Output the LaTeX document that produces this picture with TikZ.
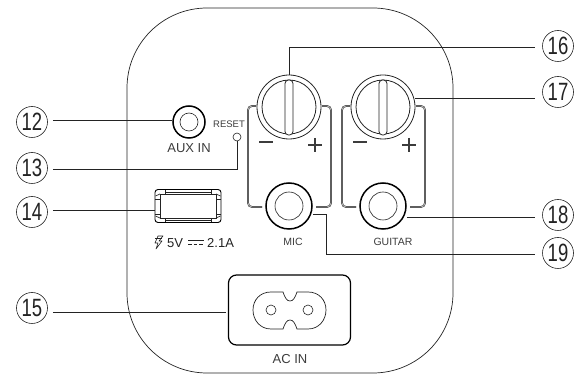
\documentclass[tikz,border=0pt]{standalone}
\usepackage{fontspec}
\setmainfont{Liberation Sans}
\newfontfamily\numfont[FakeStretch=0.74]{Liberation Sans}
\usetikzlibrary{calc}
\definecolor{panelink}{RGB}{35, 35, 35}
\definecolor{labelink}{RGB}{60, 60, 60}
\tikzset{
    callout/.style={circle, draw=panelink, line width=0.6pt, minimum size=31pt, inner sep=0pt, text=panelink,
        font=\numfont\fontsize{25}{25}\selectfont},
    leader/.style={draw=panelink, line width=0.7pt},
    jackring/.style={circle, draw=black, line width=1.5pt, inner sep=0pt},
    knobring/.style={circle, draw=panelink, line width=0.8pt, minimum size=64pt, inner sep=0pt},
    caption/.style={text=labelink, inner sep=0pt, font=\fontsize{10.5}{12}\selectfont},
    bracket/.style={draw=black!80, line width=0.45pt, double=gray!60, double distance=0.9pt, rounded corners=4pt},
}

\begin{document}
\begin{tikzpicture}[x=1pt, y=-1pt]
\useasboundingbox (0,0) rectangle (574,374);

% === Carcasa ===
\draw[panelink, line width=0.7pt, rounded corners=80pt] (127,8) rectangle (453,373);

% === Mandos MIC / GUITAR ===
\foreach \name/\cx in {mic/289, guitar/383} {
    \begin{scope}[shift={(\cx,0)}]
        % Soportes laterales
        \draw[bracket] (-33,106) -- (-41,106) -- (-41,207) -- (-27,207);
        \draw[bracket] (33,106) -- (42,106) -- (42,207) -- (27,207);

        % Mando
        \node[knobring, fill=white] (knob\name) at (0,107) {};
        \node[knobring, minimum size=54pt] at (0,107) {};
        \draw[panelink, line width=0.8pt, fill=white, rounded corners=3.5pt] (-4,135) rectangle (4,80);

        % Signos
        \draw[labelink, line width=1.1pt] (-30,142) -- (-16,142);
        \draw[labelink, line width=1.1pt] (19,145) -- (33,145) (26,138) -- (26,152);

        % Jack
        \node[jackring, minimum size=46pt, fill=white] (jack\name) at (0,206) {};
        \node[circle, draw=panelink, line width=0.6pt, minimum size=28pt, inner sep=0pt] at (0,206) {};
    \end{scope}
}
\node[caption] (miclabel) at (293,242) {MIC};
\node[caption] (guitarlabel) at (393,242) {GUITAR};

% === AUX IN / RESET ===
\node[jackring, minimum size=32pt] (auxjack) at (189,122) {};
\node[circle, draw=panelink, line width=0.6pt, minimum size=18pt, inner sep=0pt] at (189,122) {};
\node[caption, font=\fontsize{13}{15}\selectfont] (auxlabel) at (189,148) {AUX IN};
\node[caption, font=\fontsize{9.5}{11}\selectfont] (resetlabel) at (229,124) {RESET};
\node[circle, draw=panelink, line width=0.6pt, minimum size=8pt, inner sep=0pt] (resetled) at (237,137) {};

% === USB ===
\node[draw=black, line width=0.9pt, rounded corners=3pt, minimum width=66pt, minimum height=33pt, inner sep=0pt] (usb) at (188,206) {};
\draw[panelink, line width=0.7pt] (160,194) rectangle (216,218);
\draw[panelink, line width=0.7pt] (165,194) -- (165,190) (211,194) -- (211,190) (165,218) -- (165,222) (211,218) -- (211,222);
\draw[panelink, line width=0.7pt] (155.5,196) -- (160,194) (220.5,196) -- (216,194) (155.5,216) -- (160,218) (220.5,216) -- (216,218);
\draw[panelink, line width=0.7pt] (160,199) -- (155,199) (216,199) -- (221,199) (160,214) -- (155,214) (216,214) -- (221,214);
\draw[panelink, line width=0.7pt] (165,192) -- (211,192) (165,220) -- (211,220);
% Rayo
\draw[panelink, line width=0.6pt, line join=round] (158,236) -- (155,243) -- (158,243) -- (156,249) -- (162,241) -- (159,241) -- (163,236) -- cycle;
\draw[panelink, line width=0.4pt] (155,238.5) -- (162,238.5);
\node[caption, anchor=west, text=panelink, font=\fontsize{13}{15}\selectfont] (usbvolt) at (167,243) {5V};
\draw[panelink, line width=0.8pt] (188,240.5) -- (204,240.5);
\draw[panelink, line width=0.8pt, dash pattern=on 3.5pt off 2pt] (188,244) -- (204,244);
\node[caption, anchor=west, text=panelink, font=\fontsize{13}{15}\selectfont] (usbamp) at (207,243) {2.1A};

% === AC IN ===
\node[draw=black, line width=1.2pt, rounded corners=8pt, minimum width=122pt, minimum height=70pt, inner sep=0pt] (acin) at (289.5,310) {};
\draw[panelink, line width=0.7pt] (283,292) -- (271,292)
    .. controls (260,292) and (253,300) .. (253,310)
    .. controls (253,320) and (260,329) .. (271,329) -- (283,329)
    .. controls (285,323) and (287,320) .. (290,320)
    .. controls (293,320) and (295,323) .. (297,329) -- (308,329)
    .. controls (319,329) and (326,320) .. (326,310)
    .. controls (326,300) and (319,292) .. (308,292) -- (297,292)
    .. controls (295,298) and (293,301) .. (290,301)
    .. controls (287,301) and (285,298) .. (283,292) -- cycle;
\node[circle, draw=panelink, line width=0.6pt, minimum size=10pt, inner sep=0pt] (acleft) at (271,310) {};
\node[circle, draw=panelink, line width=0.6pt, minimum size=10pt, inner sep=0pt] (acright) at (308,310) {};
\node[caption, font=\fontsize{13}{15}\selectfont] (aclabel) at (290,359) {AC IN};

% === Numeros ===
\foreach \name/\num/\cx/\cy in {c12/12/32/122, c13/13/32/168, c14/14/32/212, c15/15/32/308,
        c16/16/558/46, c17/17/558/92, c18/18/558/215, c19/19/558/253} {
    \node[callout] (\name) at (\cx,\cy) {\num};
}

% === Lineas ===
\coordinate (bend13) at (resetled.south |- 0,169);
\coordinate (bend16) at (knobmic.north |- 0,47);
\coordinate (bend19) at (326,214);
\coordinate (bend19b) at (326,254);
\draw[leader] ($(c12.east)+(5,-2)$) -- (auxjack.west |- 0,120);
\draw[leader] ($(c13.east)+(5,1)$) -- (bend13) -- (resetled.south);
\draw[leader] ($(c14.east)+(5,-2)$) -- (usb.west |- 0,210);
\draw[leader] ($(c15.east)+(5,4)$) -- ($(acin.west)+(-2,2)$);
\draw[leader] (knobmic.north) -- (bend16) -- ($(c16.west)+(-7,1)$);
\draw[leader] (knobguitar.east |- 0,98) -- ($(c17.west)+(-7,6)$);
\draw[leader] (jackguitar.east |- 0,217) -- ($(c18.west)+(-7,2)$);
\draw[leader] (jackmic.east |- 0,214) -- (bend19) -- (bend19b) -- ($(c19.west)+(-7,1)$);

\end{tikzpicture}
\end{document}
